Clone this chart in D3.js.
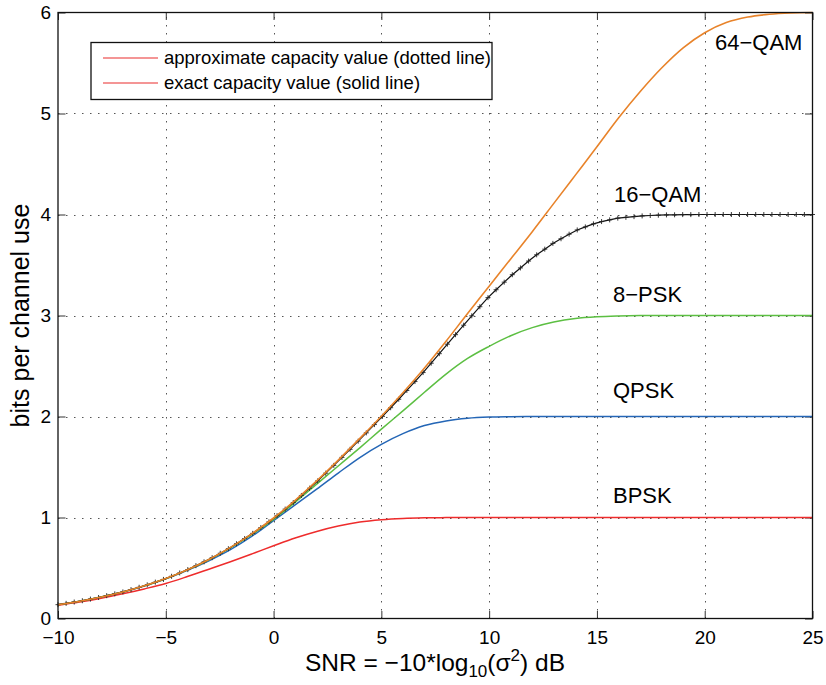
<!DOCTYPE html>
<html>
<head>
<meta charset="utf-8">
<script src="https://cdn.jsdelivr.net/npm/d3@7"></script>
<style>
  html, body { margin: 0; padding: 0; background: #fff; }
  svg { display: block; font-family: "Liberation Sans", Arial, Helvetica, sans-serif; }
</style>
</head>
<body>
<svg id="chart" width="826" height="685"></svg>
<script>
// SNR grid (dB) for the smooth capacity curves
const snrDb = d3.range(-10, 26, 1);

// Constellation-constrained capacity, bits per channel use
const bpsk = [0.132, 0.163, 0.200, 0.244, 0.293, 0.347, 0.415, 0.488, 0.562, 0.640,
  0.720, 0.797, 0.862, 0.915, 0.955, 0.978, 0.991, 0.997, 0.999, 1.0,
  1.0, 1.0, 1.0, 1.0, 1.0, 1.0, 1.0, 1.0, 1.0, 1.0, 1.0, 1.0, 1.0, 1.0, 1.0, 1.0];
const qpsk = [0.138, 0.172, 0.213, 0.262, 0.322, 0.392, 0.476, 0.572, 0.682, 0.815,
  0.970, 1.124, 1.280, 1.440, 1.594, 1.724, 1.830, 1.910, 1.956, 1.982,
  1.994, 1.998, 2.0, 2.0, 2.0, 2.0, 2.0, 2.0, 2.0, 2.0, 2.0, 2.0, 2.0, 2.0, 2.0, 2.0];
const psk8 = [0.137, 0.171, 0.213, 0.262, 0.323, 0.394, 0.481, 0.582, 0.699, 0.832,
  0.982, 1.150, 1.330, 1.510, 1.690, 1.875, 2.055, 2.240, 2.420, 2.575,
  2.695, 2.800, 2.880, 2.935, 2.970, 2.987, 2.995, 2.999, 3.0, 3.0,
  3.0, 3.0, 3.0, 3.0, 3.0, 3.0];
const qam64 = [0.137, 0.171, 0.213, 0.263, 0.324, 0.396, 0.483, 0.585, 0.704, 0.841,
  0.995, 1.170, 1.362, 1.568, 1.783, 2.003, 2.235, 2.480, 2.745, 3.020,
  3.290, 3.560, 3.830, 4.110, 4.390, 4.670, 4.955, 5.215, 5.450, 5.650,
  5.800, 5.900, 5.955, 5.982, 5.995, 6.000];

// 16-QAM is plotted on a finer SNR grid (94 samples from -10 to 25 dB) with '+' markers
const snrDb16 = d3.range(94).map(k => -10 + k * 35 / 93);
const qam16 = [0.137, 0.150, 0.163, 0.176, 0.192, 0.208, 0.226, 0.244, 0.263, 0.286,
  0.309, 0.333, 0.360, 0.387, 0.418, 0.451, 0.484, 0.523, 0.561, 0.602,
  0.646, 0.691, 0.740, 0.791, 0.843, 0.900, 0.957, 1.018, 1.083, 1.148,
  1.218, 1.290, 1.362, 1.439, 1.516, 1.595, 1.675, 1.756, 1.838, 1.920,
  2.002, 2.087, 2.171, 2.258, 2.346, 2.435, 2.528, 2.622, 2.716, 2.810,
  2.904, 2.997, 3.087, 3.177, 3.255, 3.330, 3.404, 3.471, 3.539, 3.601,
  3.657, 3.714, 3.760, 3.805, 3.847, 3.877, 3.907, 3.930, 3.947, 3.964,
  3.972, 3.979, 3.986, 3.990, 3.993, 3.996, 3.997, 3.999, 3.999, 4.0,
  4.0, 4.0, 4.0, 4.0, 4.0, 4.0, 4.0, 4.0, 4.0, 4.0, 4.0, 4.0, 4.0, 4.0];

const xTicks = [-10, -5, 0, 5, 10, 15, 20, 25];
const yTicks = [0, 1, 2, 3, 4, 5, 6];

const curveLabels = ["64−QAM", "16−QAM", "8−PSK", "QPSK", "BPSK"];
const legendLabels = ["approximate capacity value (dotted line)", "exact capacity value (solid line)"];

const svg = d3.select("#chart");
const plotL = 58, plotR = 812.5, plotT = 12.5, plotB = 618.5;

const x = d3.scaleLinear().domain([-10, 25]).range([plotL, plotR]);
const y = d3.scaleLinear().domain([0, 6]).range([plotB, plotT]);

// dotted grid
const grid = svg.append("g").attr("stroke", "#555").attr("stroke-width", 1)
  .attr("stroke-dasharray", "1.5,6.5").attr("fill", "none");
grid.selectAll("line.v").data(xTicks.slice(1, -1)).join("line").attr("class", "v")
  .attr("x1", d => Math.round(x(d)) + 0.5).attr("x2", d => Math.round(x(d)) + 0.5)
  .attr("y1", plotB).attr("y2", plotT);
grid.selectAll("line.h").data(yTicks.slice(1, -1)).join("line").attr("class", "h")
  .attr("y1", d => Math.round(y(d)) + 0.5).attr("y2", d => Math.round(y(d)) + 0.5)
  .attr("x1", plotL).attr("x2", plotR);

// axes with inward ticks on all four sides
const tickLen = 7.5;
const axB = svg.append("g").attr("transform", `translate(0,${plotB})`)
  .call(d3.axisBottom(x).tickValues(xTicks).tickSizeInner(-tickLen).tickSizeOuter(0).tickPadding(12)
    .tickFormat(d => d < 0 ? "−" + Math.abs(d) : String(d)));
const axT = svg.append("g").attr("transform", `translate(0,${plotT})`)
  .call(d3.axisTop(x).tickValues(xTicks).tickSizeInner(-tickLen).tickSizeOuter(0).tickFormat(""));
const axL = svg.append("g").attr("transform", `translate(${plotL},0)`)
  .call(d3.axisLeft(y).tickValues(yTicks).tickSizeInner(-tickLen).tickSizeOuter(0).tickPadding(7)
    .tickFormat(d3.format("d")));
const axR = svg.append("g").attr("transform", `translate(${plotR},0)`)
  .call(d3.axisRight(y).tickValues(yTicks).tickSizeInner(-tickLen).tickSizeOuter(0).tickFormat(""));
[axB, axT, axL, axR].forEach(a => {
  a.select(".domain").remove();
  a.selectAll(".tick line").attr("stroke", "#333").attr("stroke-width", 1);
  a.selectAll("text").attr("font-size", 19).attr("fill", "#000")
    .attr("font-family", "'Liberation Sans', Arial, sans-serif");
});
axB.selectAll("text").attr("dy", "0.71em");

// curves
const line = d3.line().x(d => x(d[0])).y(d => y(d[1])).curve(d3.curveMonotoneX);
const zip = (xs, ys) => xs.map((v, i) => [v, ys[i]]);

const plot = svg.append("g").attr("fill", "none").attr("stroke-width", 1.5);
plot.append("path").attr("d", line(zip(snrDb, bpsk))).attr("stroke", "#ee2c2c");
plot.append("path").attr("d", line(zip(snrDb, qpsk))).attr("stroke", "#2466b6");
plot.append("path").attr("d", line(zip(snrDb, psk8))).attr("stroke", "#5cbf42");

const pts16 = zip(snrDb16, qam16);
plot.append("path").attr("d", d3.line().x(d => x(d[0])).y(d => y(d[1]))(pts16))
  .attr("stroke", "#111").attr("stroke-width", 1.2);
const mk = svg.append("g").attr("stroke", "#222").attr("stroke-width", 0.9).attr("fill", "none");
mk.selectAll("path").data(pts16).join("path")
  .attr("transform", d => `translate(${x(d[0])},${y(d[1])})`)
  .attr("d", "M-2.5,0H2.5M0,-2.5V2.5");

svg.append("path").attr("d", line(zip(snrDb, qam64))).attr("fill", "none")
  .attr("stroke", "#e8832a").attr("stroke-width", 1.6);

// frame
svg.append("rect").attr("x", plotL).attr("y", plotT).attr("width", plotR - plotL).attr("height", plotB - plotT)
  .attr("fill", "none").attr("stroke", "#111").attr("stroke-width", 1.3);

// curve labels
const labelPos = [[715, 50], [614, 201.5], [613, 301.5], [613, 398], [613, 503]];
svg.append("g").selectAll("text").data(curveLabels).join("text")
  .attr("x", (d, i) => labelPos[i][0]).attr("y", (d, i) => labelPos[i][1])
  .attr("font-size", 22).attr("fill", "#000").text(d => d);

// legend
const lg = svg.append("g");
lg.append("rect").attr("x", 91).attr("y", 42.5).attr("width", 401).attr("height", 57)
  .attr("fill", "#fff").attr("stroke", "#111").attr("stroke-width", 1.3);
lg.selectAll("line.key").data(legendLabels).join("line").attr("class", "key")
  .attr("x1", 103).attr("x2", 158).attr("y1", (d, i) => 58 + i * 25).attr("y2", (d, i) => 58 + i * 25)
  .style("stroke", "#f07272").style("stroke-width", 1.4);
lg.selectAll("text").data(legendLabels).join("text")
  .attr("x", 164).attr("y", (d, i) => 64 + i * 25).attr("font-size", 18.5).attr("fill", "#000").text(d => d);

// axis titles
const xl = svg.append("text").attr("x", 435).attr("y", 671).attr("text-anchor", "middle")
  .attr("font-size", 24.5).attr("fill", "#000");
xl.append("tspan").text("SNR = −10*log");
xl.append("tspan").attr("font-size", 17).attr("dy", 6).text("10");
xl.append("tspan").attr("dy", -6).text("(σ");
xl.append("tspan").attr("font-size", 17).attr("dy", -10).text("2");
xl.append("tspan").attr("dy", 10).text(") dB");

svg.append("text").attr("transform", `translate(29,${(plotT + plotB) / 2}) rotate(-90)`)
  .attr("text-anchor", "middle").attr("font-size", 25).attr("fill", "#000").text("bits per channel use");
</script>
</body>
</html>
